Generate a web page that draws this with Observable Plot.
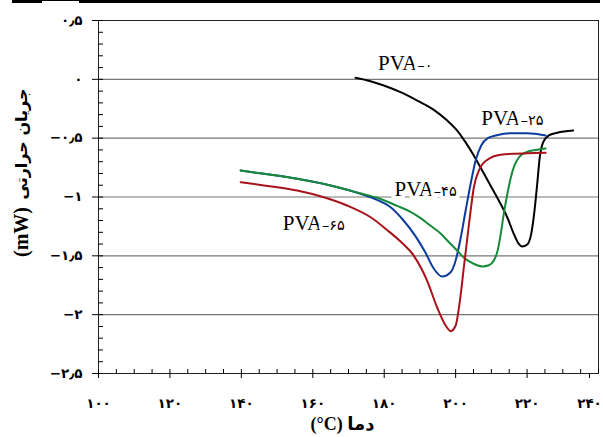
<!DOCTYPE html>
<html><head><meta charset="utf-8">
<script src="https://cdn.jsdelivr.net/npm/d3@7"></script>
<script src="https://cdn.jsdelivr.net/npm/@observablehq/plot@0.6"></script>
<style>
body{margin:0;background:#fff;}
#wrap{position:relative;width:603px;height:437px;}
.rule{position:absolute;top:0;background:#000;z-index:2;}
</style></head><body>
<div id="wrap">
<div class="rule" style="left:12px;width:30px;height:3px"></div>
<div class="rule" style="left:42px;width:37px;height:1px"></div>
<div class="rule" style="left:79px;width:521px;height:3px"></div>
</div>
<script>
// PVA-0 (black)
const pva0T = [171.96,176.16,179.89,184.56,189.24,193.89,197.64,200.44,202.76,205.08,207.44,209.76,212.08,214.44,216.28,217.68,218.64,220.04,221.16,222.08,222.84,223.56,224.52,226.08,228.44,232.92];
const pva0Q = [0.013,-0.016,-0.052,-0.109,-0.18,-0.259,-0.35,-0.435,-0.534,-0.647,-0.775,-0.902,-1.03,-1.172,-1.313,-1.398,-1.421,-1.404,-1.313,-1.115,-0.888,-0.662,-0.534,-0.477,-0.454,-0.435];
// PVA-25 (blue)
const pva25T = [139.8,146.3,155.6,165,173.4,178,181.8,185,188.7,191.5,193.9,196.2,198.6,200.0,201.4,202.8,204.2,205.6,207.2,209,211.5,215.4,220,225.2];
const pva25Q = [-0.775,-0.803,-0.845,-0.902,-0.973,-1.024,-1.087,-1.185,-1.33,-1.47,-1.61,-1.676,-1.64,-1.54,-1.35,-1.115,-0.888,-0.69,-0.56,-0.5,-0.475,-0.458,-0.458,-0.477];
// PVA-45 (green)
const pva45T = [139.8,146.3,155.6,165,173.4,178,183.6,187,190.2,193,195.8,198,200.4,202.5,204.2,206,207.5,209.3,210.7,211.8,212.7,213.6,214.5,215.4,216.5,217.8,220,222.5,225.2];
const pva45Q = [-0.775,-0.803,-0.845,-0.902,-0.97,-1.007,-1.075,-1.12,-1.18,-1.245,-1.31,-1.38,-1.455,-1.52,-1.554,-1.58,-1.59,-1.58,-1.54,-1.45,-1.3,-1.12,-0.97,-0.84,-0.73,-0.66,-0.617,-0.6,-0.587];
// PVA-65 (red)
const pva65T = [139.8,146.3,155.6,163.1,169.6,176.2,180.8,184.8,188.3,192,194.8,197.2,198.6,200,201.2,202.3,203.3,204.2,205.1,206.5,208.8,212.6,220.1,225.2];
const pva65Q = [-0.874,-0.902,-0.945,-1.002,-1.072,-1.172,-1.28,-1.385,-1.5,-1.71,-1.937,-2.092,-2.14,-2.092,-1.88,-1.597,-1.342,-1.115,-0.917,-0.775,-0.685,-0.641,-0.628,-0.624];

const seriesNames = ["PVA-0","PVA-25","PVA-45","PVA-65"];
const seriesColors = ["#000000","#0b3c9c","#178a3a","#a8121a"];
const labelMain = ["PVA","PVA","PVA","PVA"];
const labelSuffix = ["–۰","–۲۵","–۴۵","–۶۵"];
const labelT = [189.3,218.2,193.9,162.6];
const labelQ = [0.139,-0.335,-0.936,-1.221];

const xMajor = [100,120,140,160,180,200,220,240];
const yMajor = [0.5,0,-0.5,-1,-1.5,-2,-2.5];
const xMinor = d3.range(100,241,5);
const yMinor = d3.range(-25,6,1).map(v=>v/10);

const yTitleText = "جریان حرارتی";
const yTitleUnit = "(mW)";
const xTitle = "(°C) دما";

const fa = "۰۱۲۳۴۵۶۷۸۹";
const toFa = v => String(v).replace("-", "−").replace(".", "٫").replace(/\d/g, d => fa[d]);

const seriesT = [pva0T,pva25T,pva45T,pva65T];
const seriesQ = [pva0Q,pva25Q,pva45Q,pva65Q];
const labels = labelMain.map((t,i)=>({t, s:labelSuffix[i], x:labelT[i], y:labelQ[i]}));

const tickFont = {fontSize:13.5, fontWeight:"bold", fontFamily:"DejaVu Sans", label:null};

const chart = Plot.plot({
  width:603, height:437,
  marginLeft:98, marginRight:5, marginTop:20, marginBottom:64,
  x:{domain:[100,240]}, y:{domain:[-2.5,0.5]},
  style:{background:"white", overflow:"visible"},
  marks:[
    Plot.gridY(yMajor.filter(v=>v>-2.5 && v<0.5), {stroke:"#777", strokeOpacity:1, strokeWidth:1.2}),
    Plot.frame({stroke:"#222"}),
    Plot.axisY(yMajor, {tickSize:6, tickPadding:10, tickFormat:toFa, ...tickFont}),
    Plot.axisY(yMinor, {tickSize:-5, text:null, label:null}),
    Plot.axisX(xMajor.slice(0,-1), {tickSize:5, tickPadding:20, tickFormat:toFa, ...tickFont}),
    Plot.axisX(xMajor.slice(-1), {tickSize:5, tickPadding:20, tickFormat:toFa, dx:-9, ...tickFont}),
    Plot.axisX(xMinor, {tickSize:-4, text:null, label:null}),
    Plot.text(labels, {x:"x", y:"y", text:"t", textAnchor:"end", fontFamily:"Liberation Serif", fontSize:21, fill:"black", stroke:"white", strokeWidth:8}),
    Plot.text(labels, {x:"x", y:"y", text:"s", textAnchor:"start", dy:2, fontFamily:"DejaVu Sans", fontSize:14.5, fill:"black", stroke:"white", strokeWidth:8}),
    ...seriesT.map((T,i)=>Plot.line(T.map((t,j)=>({T:t, Q:seriesQ[i][j], name:seriesNames[i]})), {x:"T", y:"Q", stroke:seriesColors[i], strokeWidth:2, curve:"monotone-x"})),
    Plot.text([yTitleText], {frameAnchor:"left", textAnchor:"middle", dx:-77, dy:-53, rotate:-90, fontSize:16, fontWeight:"bold", fontFamily:"DejaVu Sans", fill:"black"}),
    Plot.text([yTitleUnit], {frameAnchor:"left", textAnchor:"middle", dx:-77, dy:35, rotate:-90, fontSize:20, fontWeight:"bold", fontFamily:"Liberation Serif", fill:"black"}),
    Plot.text([xTitle], {frameAnchor:"bottom", textAnchor:"middle", dy:56, dx:-6, fontSize:18, fontWeight:"bold", fontFamily:"Liberation Serif, DejaVu Sans", fill:"black"})
  ]
});
document.getElementById("wrap").appendChild(chart);
</script>
</body></html>
